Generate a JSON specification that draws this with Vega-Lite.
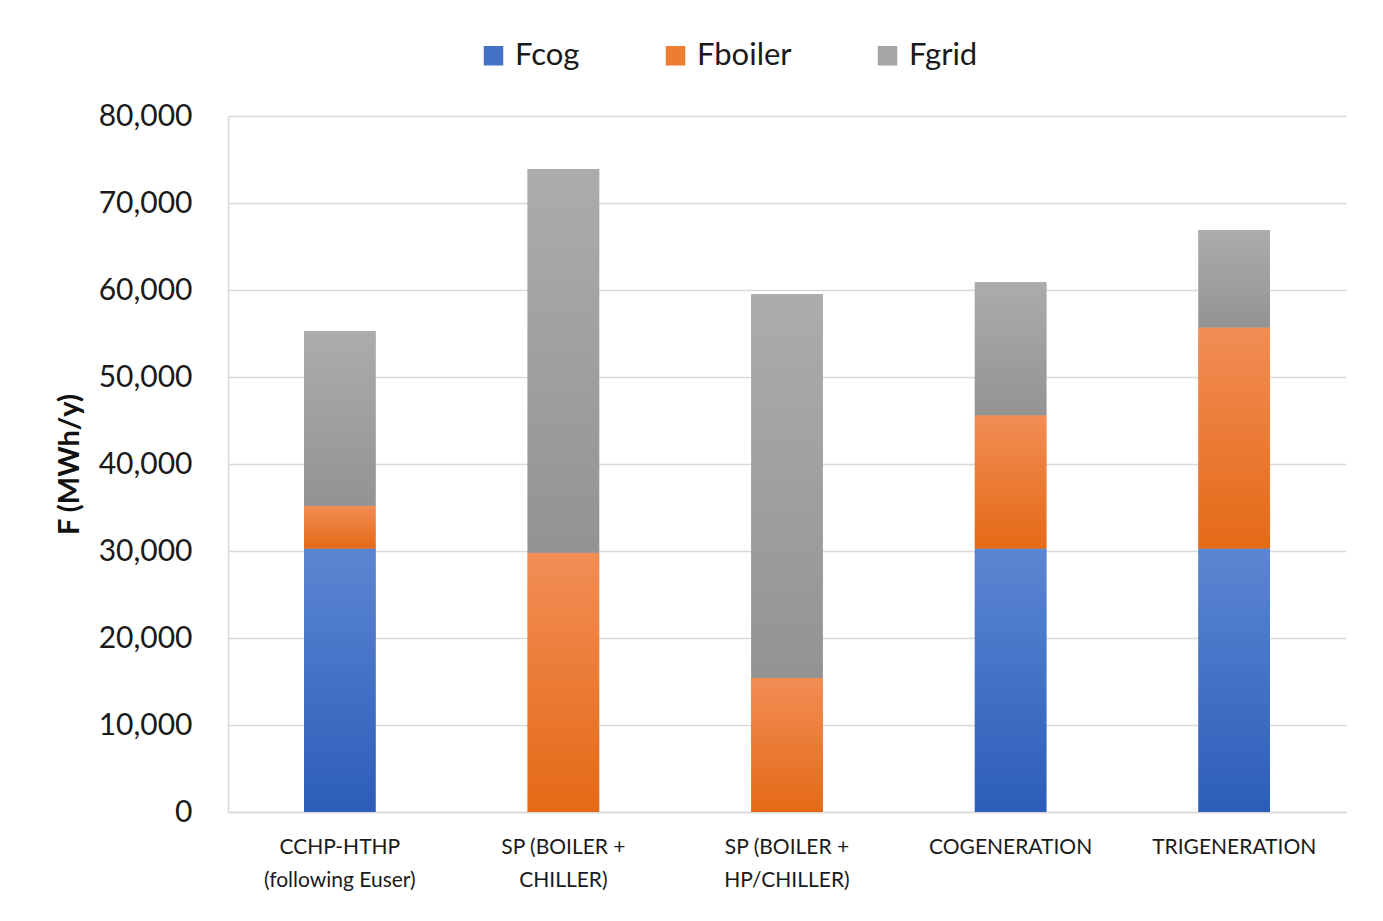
{
  "$schema": "https://vega.github.io/schema/vega-lite/v6.json",
  "autosize": "none",
  "padding": {"left": 228, "top": 116, "right": 37, "bottom": 109},
  "width": 1118,
  "height": 696,
  "background": "white",
  "config": {
    "font": "Lato",
    "view": {"stroke": null},
    "axis": {"gridColor": "#d9d9d9", "domainColor": "#d9d9d9", "gridWidth": 1.3, "domainWidth": 1.5}
  },
  "data": {
    "values": [
      {"scenario": "CCHP-HTHP (following Euser)", "series": "Fcog", "order": 1, "value": 30300},
      {"scenario": "CCHP-HTHP (following Euser)", "series": "Fboiler", "order": 2, "value": 4900},
      {"scenario": "CCHP-HTHP (following Euser)", "series": "Fgrid", "order": 3, "value": 20100},
      {"scenario": "SP (BOILER + CHILLER)", "series": "Fboiler", "order": 2, "value": 29800},
      {"scenario": "SP (BOILER + CHILLER)", "series": "Fgrid", "order": 3, "value": 44100},
      {"scenario": "SP (BOILER + HP/CHILLER)", "series": "Fboiler", "order": 2, "value": 15400},
      {"scenario": "SP (BOILER + HP/CHILLER)", "series": "Fgrid", "order": 3, "value": 44100},
      {"scenario": "COGENERATION", "series": "Fcog", "order": 1, "value": 30300},
      {"scenario": "COGENERATION", "series": "Fboiler", "order": 2, "value": 15300},
      {"scenario": "COGENERATION", "series": "Fgrid", "order": 3, "value": 15300},
      {"scenario": "TRIGENERATION", "series": "Fcog", "order": 1, "value": 30300},
      {"scenario": "TRIGENERATION", "series": "Fboiler", "order": 2, "value": 25400},
      {"scenario": "TRIGENERATION", "series": "Fgrid", "order": 3, "value": 11200}
    ]
  },
  "transform": [
    {"stack": "value", "groupby": ["scenario"], "sort": [{"field": "order", "order": "ascending"}], "as": ["y0", "y1"]}
  ],
  "encoding": {
    "x": {
      "field": "scenario",
      "type": "nominal",
      "sort": null,
      "scale": {"paddingInner": 0.68, "paddingOuter": 0.34},
      "axis": {
        "title": null,
        "labelAngle": 0,
        "ticks": false,
        "tickSize": 0,
        "labelPadding": 24,
        "labelFontSize": 21,
        "labelColor": "#1a1a1a",
        "labelLineHeight": 33,
        "labelExpr": "datum.label == 'CCHP-HTHP (following Euser)' ? ['CCHP-HTHP', '(following Euser)'] : datum.label == 'SP (BOILER + CHILLER)' ? ['SP (BOILER +', 'CHILLER)'] : datum.label == 'SP (BOILER + HP/CHILLER)' ? ['SP (BOILER +', 'HP/CHILLER)'] : datum.label"
      }
    },
    "y": {
      "field": "y1",
      "type": "quantitative",
      "scale": {"domain": [0, 80000], "nice": false},
      "axis": {
        "title": "F (MWh/y)",
        "titleFontSize": 29,
        "titleFontWeight": "bold",
        "titleColor": "#111111",
        "titlePadding": 14,
        "values": [0, 10000, 20000, 30000, 40000, 50000, 60000, 70000, 80000],
        "format": ",.0f",
        "ticks": false,
        "tickSize": 0,
        "labelPadding": 36,
        "labelFontSize": 30,
        "labelColor": "#1a1a1a"
      }
    },
    "y2": {"field": "y0"}
  },
  "layer": [
    {
      "mark": {"type": "bar"},
      "encoding": {
        "color": {
          "field": "series",
          "type": "nominal",
          "scale": {"domain": ["Fcog", "Fboiler", "Fgrid"], "range": ["#4472C4", "#ED7D31", "#A5A5A5"]},
          "legend": {
            "title": null,
            "orient": "none",
            "legendX": 250,
            "legendY": -76,
            "direction": "horizontal",
            "symbolType": "square",
            "symbolSize": 380,
            "symbolStrokeWidth": 0,
            "labelFontSize": 31,
            "labelColor": "#1a1a1a",
            "columnPadding": 80,
            "labelOffset": 6
          }
        }
      }
    },
    {
      "transform": [{"filter": "datum.series == 'Fcog'"}],
      "mark": {"type": "bar", "fill": {"gradient": "linear", "x1": 0, "y1": 0, "x2": 0, "y2": 1, "stops": [{"offset": 0, "color": "#5B86D2"}, {"offset": 1, "color": "#2C5DB8"}]}},
      "encoding": {}
    },
    {
      "transform": [{"filter": "datum.series == 'Fboiler'"}],
      "mark": {"type": "bar", "fill": {"gradient": "linear", "x1": 0, "y1": 0, "x2": 0, "y2": 1, "stops": [{"offset": 0, "color": "#F28D55"}, {"offset": 1, "color": "#E46A16"}]}},
      "encoding": {}
    },
    {
      "transform": [{"filter": "datum.series == 'Fgrid'"}],
      "mark": {"type": "bar", "fill": {"gradient": "linear", "x1": 0, "y1": 0, "x2": 0, "y2": 1, "stops": [{"offset": 0, "color": "#ACACAC"}, {"offset": 1, "color": "#939393"}]}},
      "encoding": {}
    }
  ]
}
